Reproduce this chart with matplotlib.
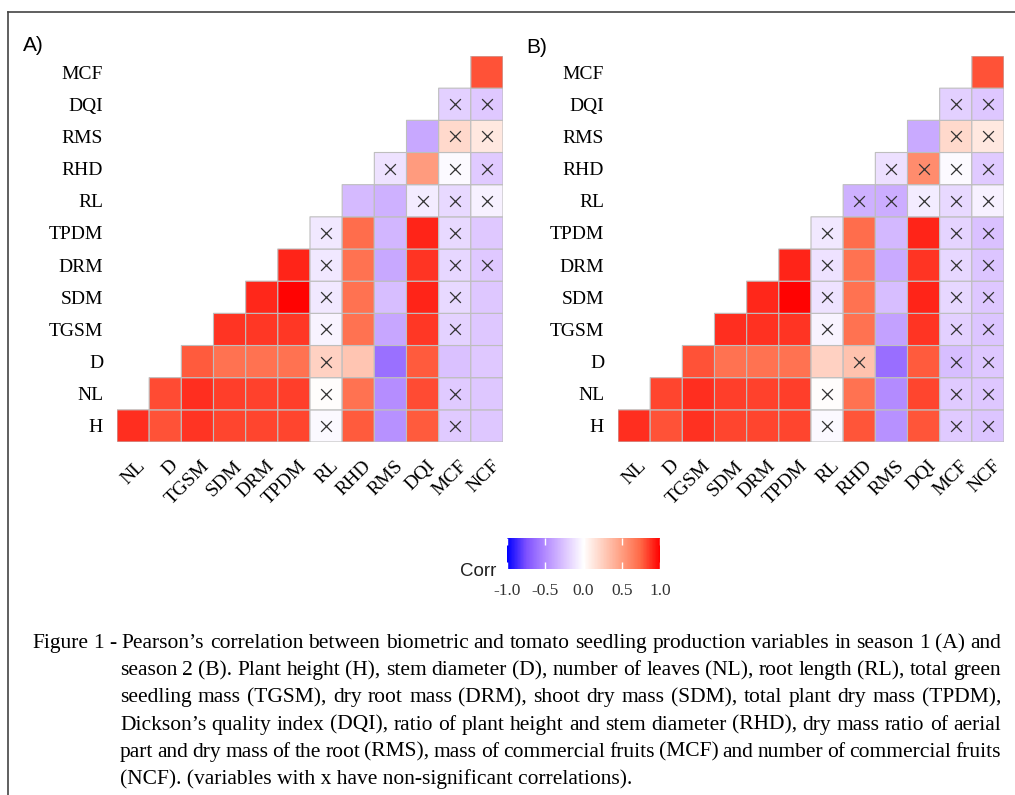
import numpy as np
import matplotlib
matplotlib.use('Agg')
import matplotlib.pyplot as plt
import matplotlib.transforms as mtransforms
from matplotlib.colors import LinearSegmentedColormap
from matplotlib.lines import Line2D

variables = ['H', 'NL', 'D', 'TGSM', 'SDM', 'DRM', 'TPDM', 'RL', 'RHD', 'RMS', 'DQI', 'MCF', 'NCF']

# row i holds corr(variables[i], variables[i+1:])
season1 = [
    [0.89, 0.80, 0.87, 0.83, 0.83, 0.83, -0.03, 0.78, -0.47, 0.78, -0.22, -0.24],
    [0.82, 0.89, 0.85, 0.84, 0.85, 0.01, 0.70, -0.49, 0.82, -0.22, -0.24],
    [0.78, 0.70, 0.70, 0.70, 0.24, 0.30, -0.61, 0.78, -0.26, -0.23],
    [0.87, 0.86, 0.86, -0.05, 0.70, -0.38, 0.86, -0.19, -0.24],
    [0.90, 0.99, -0.10, 0.70, -0.28, 0.91, -0.16, -0.24],
    [0.91, -0.10, 0.70, -0.37, 0.87, -0.17, -0.23],
    [-0.10, 0.72, -0.31, 0.91, -0.16, -0.23],
    [-0.29, -0.33, -0.08, -0.16, -0.06],
    [-0.12, 0.51, -0.02, -0.22],
    [-0.37, 0.20, 0.12],
    [-0.20, -0.23],
    [0.80],
]
season2 = [
    [0.89, 0.80, 0.88, 0.83, 0.83, 0.83, -0.03, 0.79, -0.47, 0.79, -0.22, -0.25],
    [0.83, 0.89, 0.85, 0.84, 0.85, 0.01, 0.70, -0.50, 0.83, -0.22, -0.24],
    [0.80, 0.70, 0.70, 0.70, 0.24, 0.32, -0.62, 0.78, -0.28, -0.24],
    [0.89, 0.88, 0.87, -0.05, 0.70, -0.40, 0.87, -0.20, -0.25],
    [0.90, 0.99, -0.12, 0.70, -0.28, 0.91, -0.17, -0.24],
    [0.91, -0.12, 0.70, -0.36, 0.87, -0.17, -0.25],
    [-0.10, 0.72, -0.30, 0.91, -0.18, -0.26],
    [-0.33, -0.35, -0.08, -0.16, -0.06],
    [-0.13, 0.58, -0.02, -0.22],
    [-0.36, 0.20, 0.12],
    [-0.20, -0.24],
    [0.80],
]
# '1' = non-significant (marked with x)
ns1 = ['000000100010', '00000100010', '0000100000', '000100010', '00100010',
       '0100011', '100010', '00111', '1011', '011', '11', '0']
ns2 = ['000000100011', '00000100011', '0000010011', '000100011', '00100011',
       '0100011', '100011', '11111', '1111', '011', '11', '0']

caption_lines = [
    'Figure 1 - Pearson\u2019s correlation between biometric and tomato seedling production variables in season 1 (A) and',
    'season 2 (B). Plant height (H), stem diameter (D), number of leaves (NL), root length (RL), total green',
    'seedling mass (TGSM), dry root mass (DRM), shoot dry mass (SDM), total plant dry mass (TPDM),',
    'Dickson\u2019s quality index (DQI), ratio of plant height and stem diameter (RHD), dry mass ratio of aerial',
    'part and dry mass of the root (RMS), mass of commercial fruits (MCF) and number of commercial fruits',
    '(NCF). (variables with x have non-significant correlations).',
]

W, H = 1015, 795
fig = plt.figure(figsize=(W / 100, H / 100), dpi=100)
fig.patch.set_facecolor('white')

cmap = LinearSegmentedColormap.from_list('corr', [
    (0.0, '#0000FF'), (0.125, '#7E51FF'), (0.25, '#B38BFF'), (0.375, '#DCC4FF'),
    (0.5, '#FFFFFF'), (0.625, '#FFCFBF'), (0.75, '#FF9E81'), (0.875, '#FF6846'),
    (1.0, '#FF0000')])

serif = 'Liberation Serif'
sans = 'Liberation Sans'


def px_axes(x0, y0, x1, y1):
    return fig.add_axes([x0 / W, 1 - y1 / H, (x1 - x0) / W, (y1 - y0) / H])


def draw_panel(ax, vals, ns):
    n = len(variables) - 1
    m = np.full((n, n), np.nan)
    for r, row in enumerate(vals):
        m[r, r:] = row
    ax.pcolor(np.arange(n + 1), np.arange(n + 1), np.ma.masked_invalid(m),
              cmap=cmap, vmin=-1, vmax=1, edgecolors='#BEBEBE', linewidth=0.8)
    xs, ys = [], []
    for r, flags in enumerate(ns):
        for k, f in enumerate(flags):
            if f == '1':
                xs.append(r + k + 0.5)
                ys.append(r + 0.5)
    ax.scatter(xs, ys, marker='x', s=60, c='#333333', linewidths=0.9, zorder=3)
    ax.set_xlim(0, n)
    ax.set_ylim(0, n)
    ax.set_xticks(np.arange(n) + 0.5)
    ax.set_xticklabels(variables[1:], rotation=45, ha='right', va='top',
                       rotation_mode='anchor', fontsize=14, family=serif)
    ax.set_yticks(np.arange(n) + 0.5)
    ax.set_yticklabels(variables[:-1], fontsize=14, family=serif)
    ax.tick_params(length=0)
    ax.tick_params(axis='x', pad=11)
    ax.tick_params(axis='y', pad=10)
    shift = mtransforms.ScaledTranslation(0.04, 0, fig.dpi_scale_trans)
    for lab in ax.get_xticklabels():
        lab.set_transform(lab.get_transform() + shift)
    for s in ax.spines.values():
        s.set_visible(False)


axA = px_axes(117, 56, 503, 442)
draw_panel(axA, season1, ns1)
axB = px_axes(618, 56, 1004, 442)
draw_panel(axB, season2, ns2)

fig.text(23 / W, 1 - 51 / H, 'A)', fontsize=15, family=sans, va='baseline')
fig.text(526 / W, 1 - 53 / H, 'B)', fontsize=15, family=sans, va='baseline')

# colour legend
cax = px_axes(507, 538, 660, 569)
sm = plt.cm.ScalarMappable(cmap=cmap, norm=plt.Normalize(-1, 1))
cb = fig.colorbar(sm, cax=cax, orientation='horizontal', ticks=[-1, -0.5, 0, 0.5, 1])
cb.outline.set_visible(False)
cb.ax.set_xticklabels(['-1.0', '-0.5', '0.0', '0.5', '1.0'], family=serif, fontsize=12.5, color='#333333')
cax.tick_params(which='both', direction='in', length=5, width=1, color='white',
                top=True, bottom=True, pad=10)
fig.text(460 / W, 1 - 576 / H, 'Corr', fontsize=13.5, family=sans, va='baseline', color='#222222')

# frame
fig.add_artist(Line2D([8 / W, 1], [1 - 12 / H, 1 - 12 / H], color='#444444', lw=1.2))
fig.add_artist(Line2D([8 / W, 8 / W], [0, 1 - 12 / H], color='#444444', lw=1.2))

# justified caption
cap_size = 15.5
renderer = fig.canvas.get_renderer()


def put_line(text, x0, x1, y, justify=True):
    if not justify:
        fig.text(x0 / W, 1 - y / H, text, fontsize=cap_size, family=serif, va='baseline')
        return
    words = text.split(' ')
    ts = [fig.text(0, 1 - y / H, w, fontsize=cap_size, family=serif, va='baseline') for w in words]
    ws = [t.get_window_extent(renderer).width for t in ts]
    gap = (x1 - x0 - sum(ws)) / (len(ws) - 1)
    x = x0
    for t, w in zip(ts, ws):
        t.set_x(x / W)
        x += w + gap


for i, line in enumerate(caption_lines):
    x0 = 32 if i == 0 else 120
    put_line(line, x0, 1001, 648 + 27.2 * i, justify=(i < len(caption_lines) - 1))

fig.savefig('out.png', dpi=100)
